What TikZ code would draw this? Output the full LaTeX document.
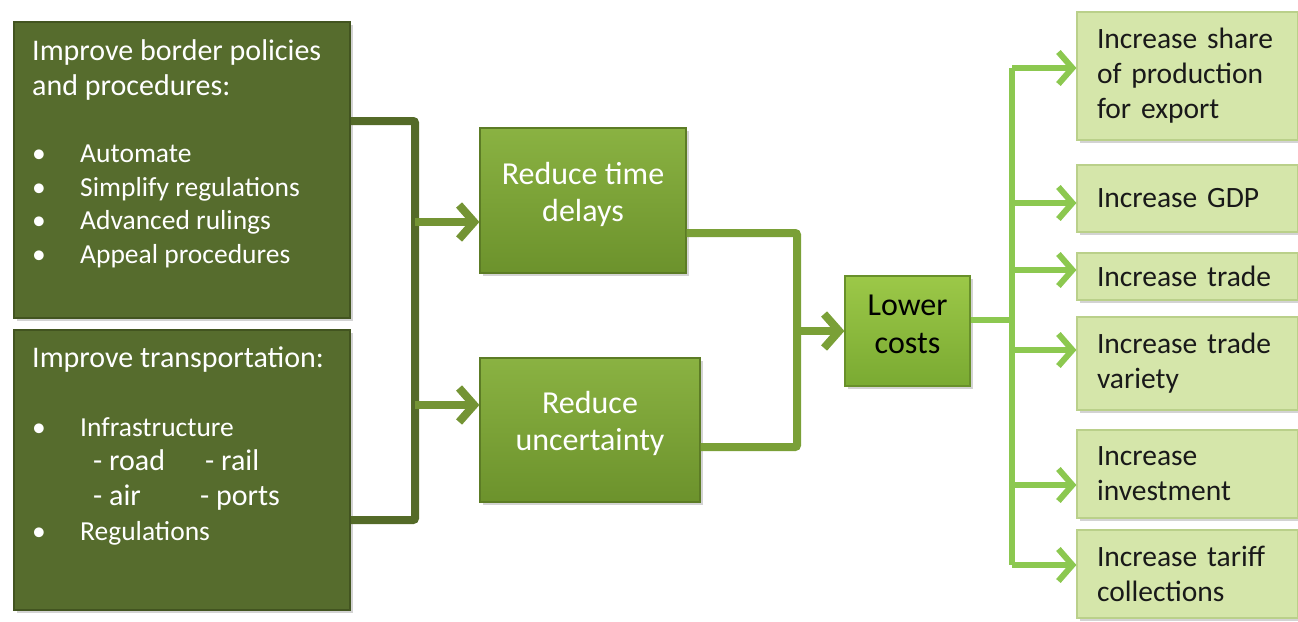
\documentclass[tikz,border=0pt]{standalone}
\usepackage{fontspec}
\setmainfont{Carlito}
\usetikzlibrary{arrows.meta,shadows}

\definecolor{olivefill}{RGB}{86,108,45}
\definecolor{olivedark}{RGB}{66,84,32}
\definecolor{olivestroke}{RGB}{84,106,40}
\definecolor{olivehead}{RGB}{116,148,52}
\definecolor{midtop}{RGB}{138,178,66}
\definecolor{midbot}{RGB}{108,146,44}
\definecolor{midstroke}{RGB}{122,160,55}
\definecolor{costtop}{RGB}{156,200,72}
\definecolor{costbot}{RGB}{122,170,50}
\definecolor{lightfill}{RGB}{213,230,170}
\definecolor{lightedge}{RGB}{186,208,138}
\definecolor{fangreen}{RGB}{140,200,80}

\newcommand{\bul}{\makebox[48pt][l]{\textbullet}}
\newcommand{\subfont}{\fontsize{30}{34.7}\selectfont}

\begin{document}
\begin{tikzpicture}[x=1pt, y=-1pt,
    box/.style = {rectangle, inner sep=0pt, drop shadow={shadow xshift=3pt, shadow yshift=-3pt, opacity=0.35}},
    darkbox/.style = {box, fill=olivefill, draw=olivedark, line width=1.5pt},
    midbox/.style = {box, top color=midtop, bottom color=midbot, draw=midbot!85!black, line width=1.2pt},
    costbox/.style = {box, top color=costtop, bottom color=costbot, draw=costbot!85!black, line width=1.2pt},
    midtext/.style = {inner sep=0pt, align=center, text=white, font=\fontsize{32}{37}\selectfont},
    costtext/.style = {midtext, text=black, font=\fontsize{32}{38}\selectfont},
    effectbox/.style = {box, fill=lightfill, draw=lightedge, line width=1.2pt, minimum width=221pt,
        text width=181pt, inner xsep=20pt, align=left, text=black!90, font=\fontsize{29.5}{35}\selectfont},
    darktitle/.style = {anchor=north west, inner sep=0pt, align=left, text=white, font=\fontsize{30}{35}\selectfont},
    darklist/.style = {darktitle, font=\fontsize{27.5}{33.5}\selectfont},
    barb/.style = {-{Straight Barb[length=15pt, width=34pt]}},
    darkline/.style = {line width=8pt, olivestroke, rounded corners=2pt},
    darkarrow/.style = {barb, line width=8pt, olivehead},
    greenline/.style = {line width=8pt, midstroke, rounded corners=2pt},
    greenarrow/.style = {barb, line width=8pt, midstroke},
    fanline/.style = {line width=6pt, fangreen},
    fanarrow/.style = {-{Straight Barb[length=14pt, width=32pt]}, line width=6pt, fangreen}]

    \useasboundingbox (0,0) rectangle (1298,621);

    % causes
    \node[darkbox, minimum width=336pt, minimum height=296pt] (border) at (182,170) {};
    \node[darktitle] (bordertitle) at (32,39) {Improve border policies\\and procedures:};
    \node[darklist] (borderlist) at (32,145) {\bul Automate\\ \bul Simplify regulations\\
        \bul Advanced rulings\\ \bul Appeal procedures};
    \node[darkbox, minimum width=336pt, minimum height=280pt] (transport) at (182,470) {};
    \node[darktitle] (transporttitle) at (32,347) {Improve transportation:};
    \node[darklist, font=\fontsize{27.5}{34.7}\selectfont] (transportlist) at (32,417) {\bul Infrastructure\\
        \hspace*{61pt}{\subfont\makebox[112pt][l]{- road}- rail}\\
        \hspace*{61pt}{\subfont\makebox[107pt][l]{- air}- ports}\\
        \bul Regulations};

    % effects
    \node[midbox, minimum width=206pt, minimum height=145pt] (delays) at (583,200.5) {};
    \node[midtext] (delaystxt) at ([yshift=6pt]delays.center) {Reduce time\\delays};
    \node[midbox, minimum width=220pt, minimum height=144pt] (uncert) at (590,430) {};
    \node[midtext] (uncerttxt) at ([yshift=7pt]uncert.center) {Reduce\\uncertainty};
    \node[costbox, minimum width=125pt, minimum height=110pt] (costs) at (907.5,331) {};
    \node[costtext] (coststxt) at ([yshift=7pt]costs.center) {Lower\\costs};

    % outcomes
    \node[effectbox, minimum height=128pt] (share) at (1187.5,76) {Increase share\\of production\\for export};
    \node[effectbox, minimum height=67pt] (gdp) at (1187.5,198.5) {Increase GDP};
    \node[effectbox, minimum height=47pt] (trade) at (1187.5,276.5) {Increase trade};
    \node[effectbox, minimum height=93pt] (variety) at (1187.5,363.5) {Increase trade\\variety};
    \node[effectbox, minimum height=88pt] (invest) at (1187.5,474) {Increase\\investment};
    \node[effectbox, minimum height=88pt] (tariff) at (1187.5,574) {Increase tariff\\collections};

    % left bracket
    \coordinate (lt) at (415,121);
    \coordinate (lb) at (415,520);
    \coordinate (la) at (415,222);
    \coordinate (lc) at (415,405);
    \draw[darkline] (border.east |- lt) -- (lt) -- (lb) -- (transport.east |- lb);
    \draw[darkarrow] (la) -- (delays.west |- la);
    \draw[darkarrow] (lc) -- (uncert.west |- lc);

    % middle bracket
    \coordinate (mt) at (797,233);
    \coordinate (mb) at (797,447);
    \draw[greenline] (delays.east |- mt) -- (mt) -- (mb) -- (uncert.east |- mb);
    \draw[greenarrow] (mt |- costs.west) -- (costs.west);

    % fan out
    \coordinate (rs) at (1012,320);
    \coordinate (rt) at (1012,68);
    \coordinate (rb) at (1012,565);
    \draw[fanline] (costs.east |- rs) -- (rs);
    \draw[fanline] (rt) -- (rb);
    \foreach \b/\y in {share/68, gdp/203, trade/270, variety/350, invest/485, tariff/565} {
        \coordinate (r\b) at (1012,\y);
        \draw[fanarrow] (r\b) -- (\b.west |- r\b);
    }

\end{tikzpicture}
\end{document}
